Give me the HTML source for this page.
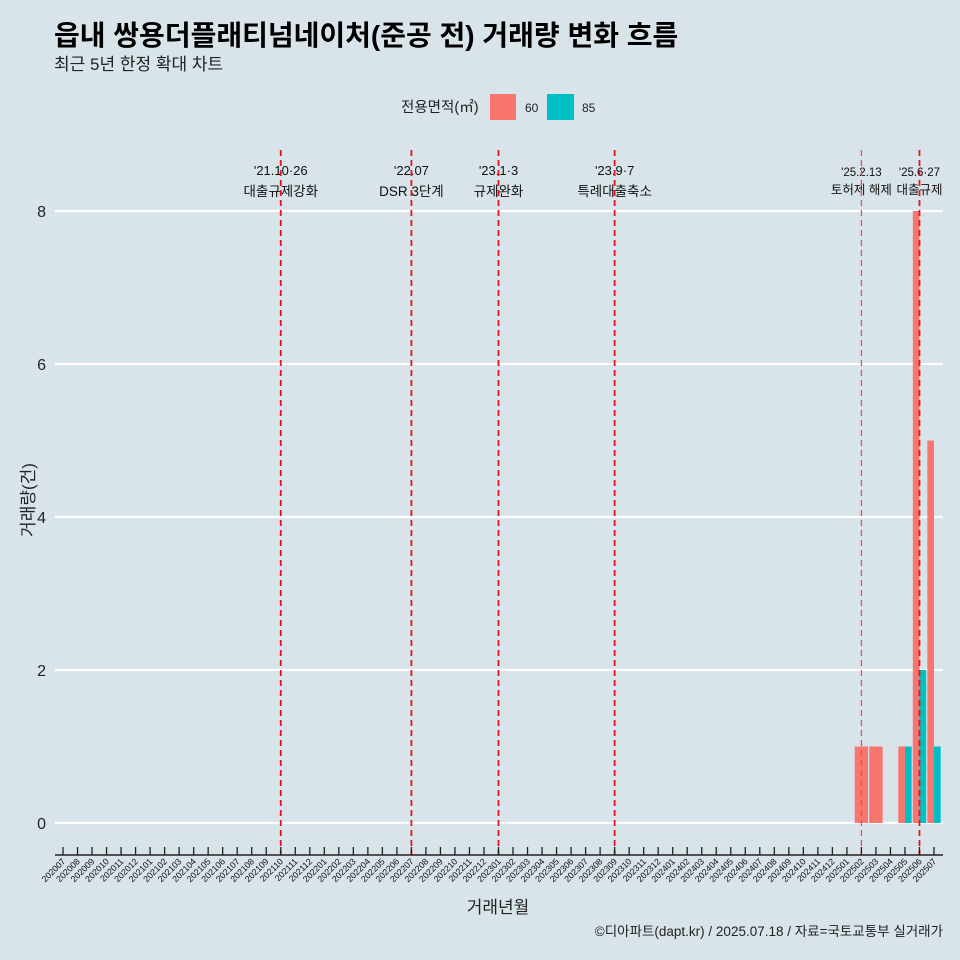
<!DOCTYPE html>
<html><head><meta charset="utf-8"><style>
body{margin:0;background:#d8e3ea;}
svg{display:block;font-family:"Liberation Sans","Noto Sans CJK KR",sans-serif;}
</style></head><body>
<svg id="c" width="960" height="960" viewBox="0 0 960 960">
<rect width="960" height="960" fill="#d8e3ea"/>
<text x="54" y="45" font-size="28" font-weight="bold" fill="#000">읍내 쌍용더플래티넘네이처(준공 전) 거래량 변화 흐름</text>
<text x="54" y="70" font-size="17" fill="#222">최근 5년 한정 확대 차트</text>
<g>
<text x="401" y="112" font-size="14.5" fill="#222">전용면적(㎡)</text>
<rect x="490" y="94" width="26" height="26" fill="#f8766d"/>
<text x="525" y="112" font-size="12" fill="#222">60</text>
<rect x="547" y="94" width="27" height="26" fill="#00bfc4"/>
<text x="582" y="112" font-size="12" fill="#222">85</text>
</g>
<text transform="translate(34,500) rotate(-90)" text-anchor="middle" font-size="17" fill="#222">거래량(건)</text>
<text x="498" y="913" text-anchor="middle" font-size="17" fill="#222">거래년월</text>
<text x="943" y="936" text-anchor="end" font-size="13.5" fill="#222">©디아파트(dapt.kr) / 2025.07.18 / 자료=국토교통부 실거래가</text>
<g id="grid"></g><g id="bars"></g><g id="vlines"></g><g id="xaxis"></g>
</svg>
<script>
const months=[];for(let y=2020;y<=2025;y++)for(let m=1;m<=12;m++){const k=y*100+m;if(k>=202007&&k<=202507)months.push(String(k));}
const yTicks=[0,2,4,6,8];
const series60={"202502":1,"202503":1,"202505":1,"202506":8,"202507":5};
const series85={"202505":1,"202506":2,"202507":1};
const eventMonths=["202110","202207","202301","202309","202502","202506"];
const eventDates=["'21.10·26","'22.07","'23.1·3","'23.9·7","'25.2.13","'25.6·27"];
const eventLabels=["대출규제강화","DSR 3단계","규제완화","특례대출축소","토허제 해제","대출규제"];
const NS="http://www.w3.org/2000/svg";
const x0=63,step=(934-63)/60;
const xs=m=>x0+months.indexOf(m)*step;
const ys=v=>823-v*76.5;
function mk(t,a,p){const e=document.createElementNS(NS,t);for(const k in a)e.setAttribute(k,a[k]);p.appendChild(e);return e;}
const g=document.getElementById('grid');
yTicks.forEach(v=>{
 const l=mk('line',{x1:55,x2:943,y1:ys(v),y2:ys(v),stroke:'#fff','stroke-width':2.2},g);
 
 
 const t=mk('text',{x:46,y:ys(v)+6,'text-anchor':'end','font-size':16,fill:'#222'},g);t.textContent=v;
 
 
});
const b=document.getElementById('bars');const bw=step*0.92;
months.forEach(m=>{
 const a=series60[m]||0,c=series85[m]||0,cx=xs(m);
 if(a&&c){
  const r1=mk('rect',{x:cx-bw/2,y:ys(a),width:bw/2,height:ys(0)-ys(a),fill:'#f8766d'},b);
  
  
  const r2=mk('rect',{x:cx,y:ys(c),width:bw/2,height:ys(0)-ys(c),fill:'#00bfc4'},b);
  
  
 }else if(a||c){
  const v=a||c;
  const r=mk('rect',{x:cx-bw/2,y:ys(v),width:bw,height:ys(0)-ys(v),fill:a?'#f8766d':'#00bfc4'},b);
  
  
 }
});
const vl=document.getElementById('vlines');
eventMonths.forEach((m,i)=>{
 const x=xs(m);const light=(m==="202502");
 const sm=light||m==="202506";
 const t1=mk('text',{x:x,y:sm?176:175,'text-anchor':'middle','font-size':sm?11.5:13,fill:'#111'},vl);t1.textContent=eventDates[i];
 
 
 const t2=mk('text',{x:x,y:sm?194:196,'text-anchor':'middle','font-size':sm?12.5:13.5,fill:'#111'},vl);t2.textContent=eventLabels[i];
 
 
 const l=mk('line',{x1:x,x2:x,y1:150,y2:855,stroke:light?'#ec5050':'#e8141c','stroke-width':light?1.3:1.8,'stroke-dasharray':'6,4'},vl);
 
 
});
mk('rect',{x:943,y:140,width:17,height:70,fill:'#d8e3ea'},vl);
const xa=document.getElementById('xaxis');
const ax=mk('line',{x1:55,x2:943,y1:855,y2:855,stroke:'#222','stroke-width':1.5},xa);


months.forEach(m=>{
 const x=xs(m);
 const tk=mk('line',{x1:x,x2:x,y1:847,y2:855,stroke:'#222','stroke-width':1.3},xa);
 
 
 const t=mk('text',{transform:`translate(${x+3},${862}) rotate(-45)`,'text-anchor':'end','font-size':8.8,fill:'#111'},xa);t.textContent=m;
 
 
});
</script>
</body></html>
